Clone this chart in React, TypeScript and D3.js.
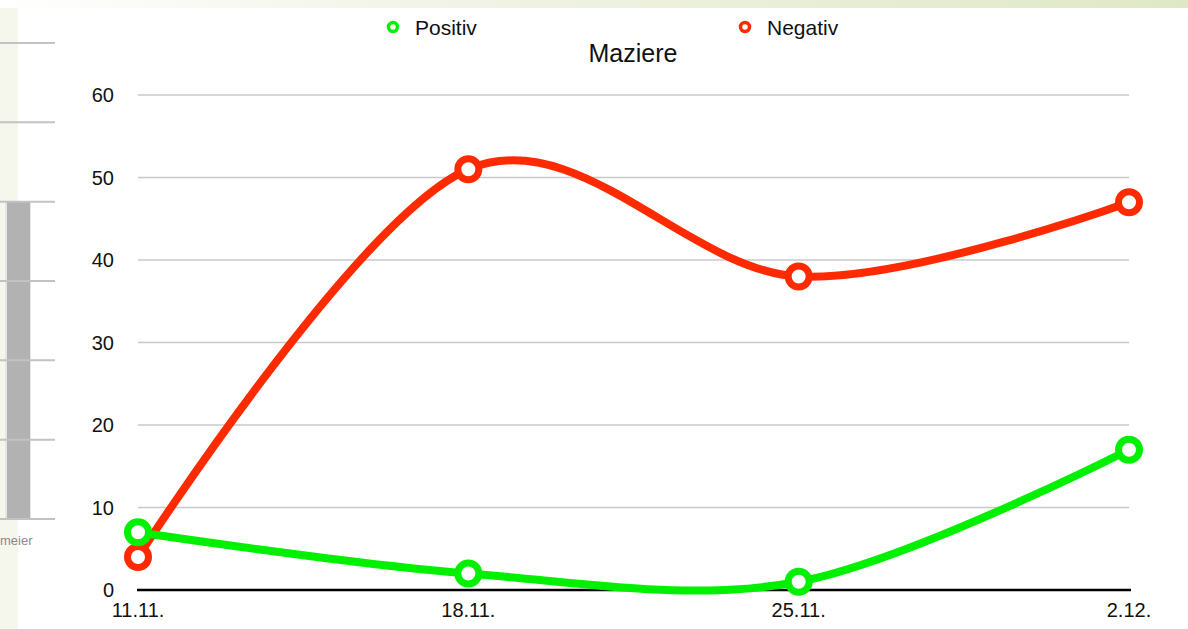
import React from "react";
import * as d3 from "d3";

const categories = ["11.11.", "18.11.", "25.11.", "2.12."];
const positiv = [7, 2, 1, 17];
const negativ = [4, 51, 38, 47];
const yTicks = [0, 10, 20, 30, 40, 50, 60];
const seriesNames = ["Positiv", "Negativ"];
const seriesColors = ["#00f000", "#ff2a00"];
const chartTitle = "Maziere";
const sideLabel = "meier";
const sideGridCount = 7;

const W = 1188;
const H = 629;
const FONT = "'Liberation Sans', Arial, Helvetica, sans-serif";

export default function App() {
  const x = d3.scalePoint<string>().domain(categories).range([138, 1129]);
  const y = d3.scaleLinear().domain([0, 60]).range([590, 95]);
  const line = d3
    .line<number>()
    .x((_, i) => x(categories[i]) as number)
    .y((d) => y(d))
    .curve(d3.curveCardinal.tension(0));

  const sideY = d3.scaleLinear().domain([0, sideGridCount - 1]).range([43, 519]);
  const sideGrid = d3.range(sideGridCount);

  const series = [
    { name: seriesNames[1], data: negativ, color: seriesColors[1] },
    { name: seriesNames[0], data: positiv, color: seriesColors[0] },
  ];

  return (
    <svg
      width={W}
      height={H}
      style={{ position: "absolute", left: 0, top: 0, background: "#fff" }}
    >
      <defs>
        <linearGradient id="topband" x1="0" x2="1" y1="0" y2="0">
          <stop offset="0" stopColor="#ffffff" />
          <stop offset="0.35" stopColor="#f2f4e8" />
          <stop offset="1" stopColor="#dfe8c6" />
        </linearGradient>
      </defs>
      <rect x={0} y={0} width={W} height={H} fill="#fff" />
      <rect x={0} y={0} width={W} height={8} fill="url(#topband)" />
      <rect x={0} y={8} width={18} height={H - 8} fill="#f5f6ec" />

      {/* partial neighbouring chart on the left */}
      <rect x={5} y={sideY(2)} width={26} height={sideY(6) - sideY(2)} fill="#e6e6e6" />
      <rect x={7} y={sideY(2)} width={23} height={sideY(6) - sideY(2)} fill="#b2b2b2" />
      {sideGrid.map((i) => (
        <line
          key={"sg" + i}
          x1={0}
          x2={55}
          y1={sideY(i)}
          y2={sideY(i)}
          stroke="#c2c2c2"
          strokeWidth={2}
        />
      ))}
      <text x={0} y={545} fontFamily={FONT} fontSize={13} fill="#8a8a8a">
        {sideLabel}
      </text>

      {/* legend */}
      {[0, 1].map((i) => {
        const lx = i === 0 ? 393 : 745;
        return (
          <g key={"lg" + i}>
            <circle cx={lx} cy={27} r={4.5} fill="#fff" stroke={seriesColors[i]} strokeWidth={3.5} />
            <text x={lx + 22} y={35} fontFamily={FONT} fontSize={21} fill="#111">
              {seriesNames[i]}
            </text>
          </g>
        );
      })}

      <text x={633} y={62} textAnchor="middle" fontFamily={FONT} fontSize={25} fill="#111">
        {chartTitle}
      </text>

      {/* grid */}
      {yTicks.map((t) => (
        <g key={"yt" + t}>
          {t !== 0 && (
            <line x1={138} x2={1129} y1={y(t)} y2={y(t)} stroke="#c8c8c8" strokeWidth={1.5} />
          )}
          <text
            x={114}
            y={y(t) + 7}
            textAnchor="end"
            fontFamily={FONT}
            fontSize={20}
            fill="#111"
          >
            {t}
          </text>
        </g>
      ))}
      <line x1={137} x2={1131} y1={y(0)} y2={y(0)} stroke="#000" strokeWidth={2.5} />
      {categories.map((c) => (
        <text
          key={"xt" + c}
          x={x(c)}
          y={617}
          textAnchor="middle"
          fontFamily={FONT}
          fontSize={20}
          fill="#111"
        >
          {c}
        </text>
      ))}

      {/* series */}
      {series.map((s) => (
        <g key={s.name}>
          <path d={line(s.data) || ""} fill="none" stroke={s.color} strokeWidth={8} strokeLinecap="round" />
          {s.data.map((v, i) => (
            <circle
              key={i}
              cx={x(categories[i])}
              cy={y(v)}
              r={10.5}
              fill="#fff"
              stroke={s.color}
              strokeWidth={7}
            />
          ))}
        </g>
      ))}
    </svg>
  );
}
